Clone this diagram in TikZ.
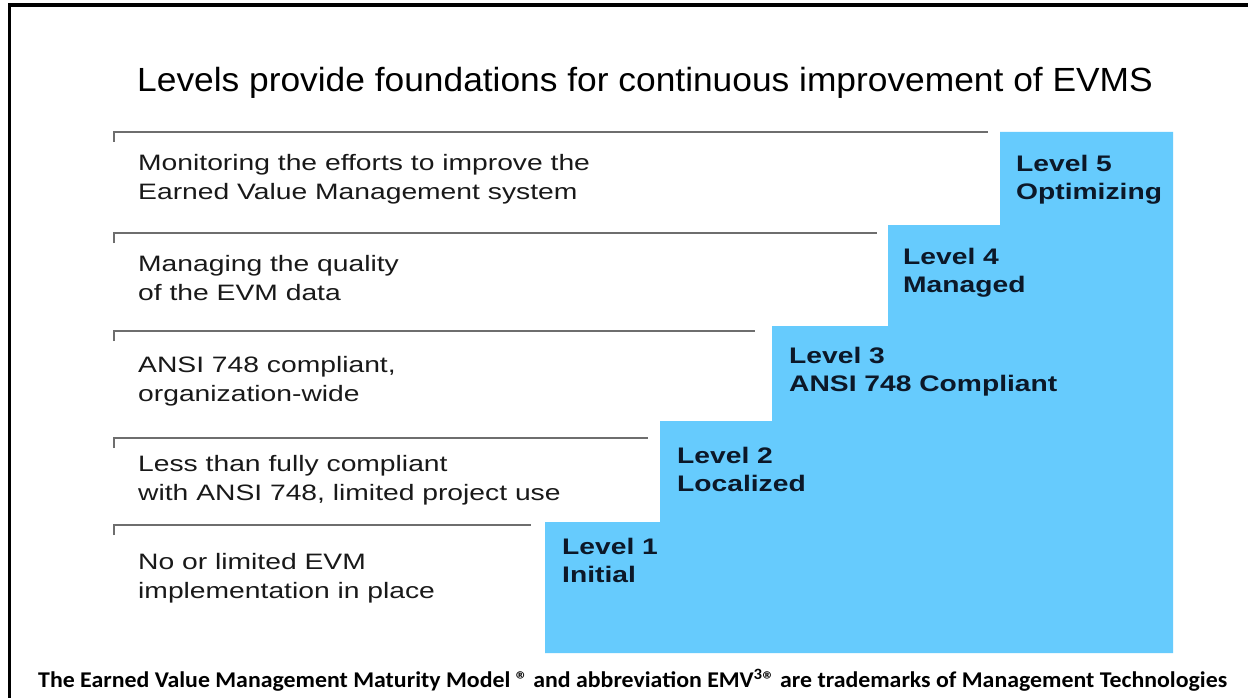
\documentclass[tikz,border=0pt]{standalone}
\usepackage{fontspec}
\setmainfont{Liberation Sans}
\newfontfamily\footfont[FakeStretch=1.06]{Carlito}
\newfontfamily\descfont[FakeStretch=1.267]{Liberation Sans}
\newfontfamily\lvlfont[FakeStretch=1.254]{Liberation Sans}
\newfontfamily\titlefont[FakeStretch=1.055]{Liberation Sans}
\definecolor{stepblue}{RGB}{102,203,253}
\definecolor{rulegray}{RGB}{110,110,110}
\definecolor{txtdark}{RGB}{25,25,25}
\definecolor{lvlnavy}{RGB}{12,24,40}
\begin{document}
\begin{tikzpicture}[x=1pt,y=-1pt,
  desc/.style={anchor=base west,inner sep=0pt,align=left,text=txtdark,font=\descfont\fontsize{22.3}{29}\selectfont},
  lvl/.style={anchor=base west,inner sep=0pt,align=left,text=lvlnavy,font=\lvlfont\bfseries\fontsize{22.5}{28}\selectfont},
  rowrule/.style={draw=rulegray,line width=1.6pt}]
\useasboundingbox (0,0) rectangle (1248,698);
\fill[white] (0,0) rectangle (1248,698);
% frame (top and left visible)
\draw[line width=3.5pt] (9.5,698) -- (9.5,5) -- (1248,5);
% title
\node[anchor=base west,inner sep=0pt,text=black,font=\titlefont\fontsize{33.5}{36}\selectfont] (title) at (137,92) {Levels provide foundations for continuous improvement of EVMS};
% staircase
\fill[stepblue] (545,653) -- (545,522) -- (660,522) -- (660,421) -- (772,421) -- (772,326)
  -- (888,326) -- (888,225) -- (1000,225) -- (1000,132) -- (1173,132) -- (1173,653) -- cycle;
% rules with left ticks
\draw[rowrule] (114,142) -- (114,132) -- (988,132);
\draw[rowrule] (114,243) -- (114,233) -- (877,233);
\draw[rowrule] (114,341) -- (114,331) -- (755,331);
\draw[rowrule] (114,448) -- (114,438) -- (648,438);
\draw[rowrule] (114,535) -- (114,525) -- (531,525);
% descriptions (base = baseline of the last line)
\node[desc] (d5) at (138,200) {Monitoring the efforts to improve the\\Earned Value Management system};
\node[desc] (d4) at (138,300) {Managing the quality\\of the EVM data};
\node[desc] (d3) at (138,401) {ANSI 748 compliant,\\organization-wide};
\node[desc] (d2) at (138,500) {Less than fully compliant\\with ANSI 748, limited project use};
\node[desc] (d1) at (138,598) {No or limited EVM\\implementation in place};
% level labels
\node[lvl] (l5) at (1016,199) {Level 5\\Optimizing};
\node[lvl] (l4) at (903,292) {Level 4\\Managed};
\node[lvl] (l3) at (789,391) {Level 3\\ANSI 748 Compliant};
\node[lvl] (l2) at (677,491) {Level 2\\Localized};
\node[lvl] (l1) at (562,582) {Level 1\\Initial};
% footer
\node[anchor=base west,inner sep=0pt,text=black,font=\footfont\bfseries\fontsize{22.5}{24}\selectfont] (foot) at (38,687)
  {The Earned Value Management Maturity Model ® and abbreviation EMV\textsuperscript{3}® are trademarks of Management Technologies};
\end{tikzpicture}
\end{document}
